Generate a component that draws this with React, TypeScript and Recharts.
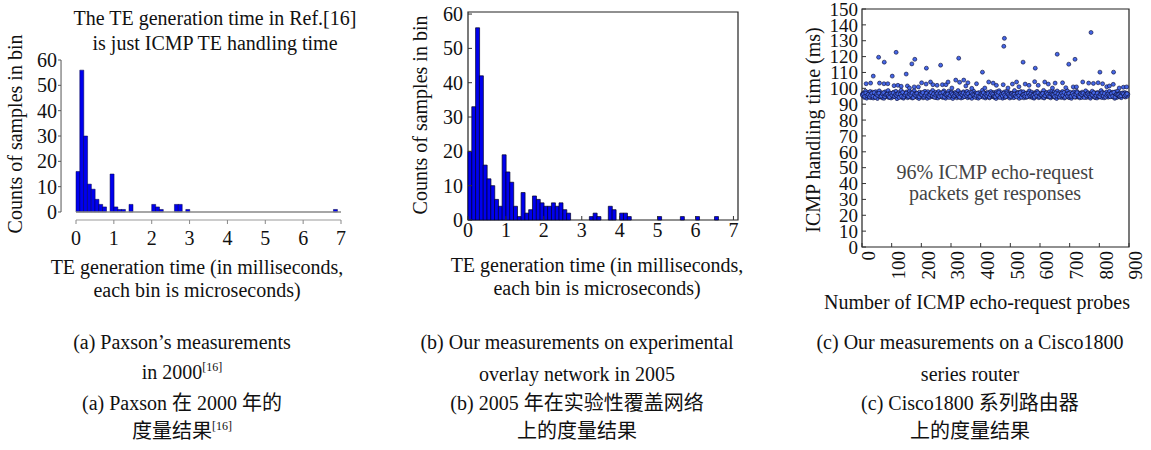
import React from "react";
import {
  BarChart,
  Bar,
  XAxis,
  YAxis,
  ReferenceLine,
  ReferenceArea,
  ScatterChart,
  Scatter,
} from "recharts";

// histogram bins are 0.1 ms wide, 70 bins from 0 to 7 ms
const BIN = 0.1;

const paxsonCounts = [
  16, 56, 30, 11, 9, 5, 3, 2, 0, 15,
  2, 1, 1, 0, 3, 0, 0, 0, 0, 0,
  3, 2, 1, 0, 0, 0, 3, 3, 0, 1,
  0, 0, 0, 0, 0, 0, 0, 0, 0, 0,
  0, 0, 0, 0, 0, 0, 0, 0, 0, 0,
  0, 0, 0, 0, 0, 0, 0, 0, 0, 0,
  0, 0, 0, 0, 0, 0, 0, 0, 1, 0,
];

const overlayCounts = [
  20, 33, 56, 42, 16, 12, 10, 6, 4, 19,
  14, 11, 4, 1, 8, 2, 3, 7, 6, 5,
  4, 4, 5, 4, 5, 3, 2, 0, 0, 0,
  0, 0, 1, 2, 1, 0, 0, 4, 3, 0,
  2, 2, 1, 0, 0, 0, 0, 0, 0, 0,
  1, 0, 0, 0, 0, 0, 1, 0, 0, 0,
  1, 0, 0, 0, 0, 1, 0, 0, 0, 0,
];

const msTicks = [0, 1, 2, 3, 4, 5, 6, 7];
const countTicks = [0, 10, 20, 30, 40, 50, 60];
const probeTicks = [0, 100, 200, 300, 400, 500, 600, 700, 800, 900];
const timeTicks = [0, 10, 20, 30, 40, 50, 60, 70, 80, 90, 100, 110, 120, 130, 140, 150];

// handling time (ms) of every second probe, starting at probe 2
const bandTimes = [
  96.5, 95.2, 97.1, 94.3, 96.0, 98.2, 95.5, 93.8, 96.8, 95.0, 97.4, 94.6, 95.9, 98.0, 94.1, 96.3, 95.4, 97.6, 93.9, 96.1,
  95.7, 94.4, 97.9, 96.2, 95.1, 93.6, 96.9, 95.3, 98.4, 94.8, 96.4, 95.6, 97.2, 94.0, 95.8, 96.7, 93.7, 95.0, 97.8, 96.0,
  94.9, 96.6, 95.2, 98.6, 94.2, 95.5, 97.0, 96.1, 93.9, 95.7, 96.8, 94.5, 97.5, 95.3, 96.2, 94.7, 98.1, 95.9, 93.5, 96.4,
  95.1, 97.3, 94.6, 96.0, 95.4, 98.8, 94.3, 96.5, 95.8, 93.8, 97.1, 95.0, 96.3, 94.9, 97.7, 95.6, 94.1, 96.9, 95.2, 98.3,
  96.1, 94.4, 95.7, 97.4, 93.9, 96.2, 95.0, 98.5, 94.7, 96.6, 95.3, 97.0, 94.2, 95.9, 96.8, 93.6, 97.6, 95.4, 96.0, 94.8,
  97.2, 95.5, 94.0, 96.4, 95.1, 98.1, 94.6, 96.7, 95.8, 93.7, 97.9, 95.2, 96.1, 94.3, 95.6, 97.3, 96.5, 94.9, 98.7, 95.0,
  94.5, 96.3, 95.9, 97.5, 94.1, 95.4, 96.8, 93.9, 98.0, 95.7, 96.0, 94.8, 97.1, 95.3, 96.6, 94.2, 95.0, 98.4, 96.2, 95.5,
  93.8, 97.0, 95.6, 96.4, 94.7, 98.2, 95.1, 96.9, 94.4, 95.8, 97.7, 96.1, 93.6, 95.2, 96.7, 94.9, 97.4, 95.9, 96.3, 94.0,
  95.4, 98.6, 94.6, 96.0, 95.7, 97.2, 93.9, 96.5, 95.0, 94.3, 97.8, 96.2, 95.5, 94.8, 96.9, 95.1, 98.1, 94.1, 96.4, 95.8,
  97.5, 94.5, 96.1, 95.3, 93.7, 96.8, 95.9, 98.3, 94.9, 96.3, 95.2, 97.0, 94.2, 95.6, 96.6, 93.8, 97.3, 95.0, 96.0, 94.7,
  96.2, 95.4, 98.8, 94.4, 95.8, 97.1, 96.5, 93.9, 95.1, 96.9, 94.6, 97.6, 95.7, 96.3, 94.0, 95.5, 98.0, 96.1, 94.8, 95.2,
  95.9, 97.4, 94.3, 96.7, 95.0, 93.6, 97.9, 95.6, 96.2, 94.5, 98.5, 95.3, 96.0, 94.9, 97.2, 95.8, 93.8, 96.4, 95.1, 97.7,
  94.2, 96.0, 95.5, 98.2, 94.7, 96.6, 95.2, 97.3, 93.9, 95.9, 96.8, 94.4, 97.0, 95.4, 96.1, 94.1, 98.6, 95.7, 96.5, 95.0,
  96.3, 94.8, 97.5, 95.1, 93.7, 96.9, 95.6, 98.0, 94.6, 96.2, 95.3, 97.8, 94.0, 95.8, 96.7, 95.0, 94.3, 97.1, 96.0, 95.4,
  95.2, 98.4, 94.5, 96.1, 95.9, 97.6, 94.2, 96.4, 95.0, 93.8, 97.2, 96.6, 95.5, 94.7, 98.1, 95.3, 96.8, 94.1, 95.7, 96.3,
  97.0, 95.6, 94.4, 96.5, 95.1, 98.7, 93.9, 96.0, 95.8, 94.9, 97.4, 95.2, 96.2, 94.6, 95.5, 97.9, 96.1, 94.0, 95.9, 98.2,
  94.8, 96.4, 95.3, 97.7, 94.3, 95.7, 96.9, 93.6, 98.3, 95.0, 96.0, 94.5, 97.3, 95.6, 96.6, 94.2, 95.1, 98.0, 96.3, 95.4,
  93.9, 97.1, 95.8, 96.2, 94.7, 98.5, 95.2, 96.8, 94.1, 95.9, 97.5, 96.0, 93.7, 95.3, 96.5, 94.9, 97.8, 95.5, 96.1, 94.4,
  95.6, 98.1, 94.6, 96.3, 95.0, 97.0, 94.0, 96.7, 95.4, 94.3, 97.6, 96.2, 95.7, 94.8, 96.9, 95.1, 98.4, 94.2, 96.0, 95.9,
  97.3, 94.5, 96.4, 95.2, 93.8, 96.6, 95.8, 98.2, 94.9, 96.1, 95.3, 97.2, 94.1, 95.5, 96.8, 93.9, 97.4, 95.0, 96.2, 94.6,
  96.0, 95.3, 98.6, 94.2, 95.9, 97.3, 96.4, 94.0, 95.2, 96.7, 94.7, 97.7, 95.6, 96.1, 94.4, 95.8, 98.1, 96.3, 94.9, 95.1,
  95.7, 97.5, 94.6, 96.5, 95.0, 93.7, 97.8, 95.4, 96.0, 94.3, 98.3, 95.1, 96.6, 94.8, 97.0, 95.9, 94.1, 96.2, 95.5, 97.1,
  96.4, 95.2, 97.3, 94.5, 95.8, 96.9, 95.0, 96.3,
];

// handling time (ms) of every fourth probe, starting at probe 1
const bandTimesExtra = [
  95.8, 96.4, 94.9, 97.0, 95.3, 96.1, 94.6, 95.7, 96.8, 95.0, 97.3, 94.4, 96.2, 95.5, 96.9, 94.8,
  95.1, 96.6, 97.2, 94.7, 95.9, 96.3, 95.2, 94.5, 96.7, 95.6, 97.1, 94.9, 96.0, 95.4, 96.5, 94.3,
  96.2, 95.0, 97.4, 94.6, 95.8, 96.9, 95.3, 94.8, 96.4, 95.7, 97.0, 94.2, 96.1, 95.5, 96.7, 95.1,
  94.7, 96.3, 95.9, 97.3, 94.5, 95.6, 96.8, 95.2, 94.9, 96.0, 97.2, 95.4, 96.5, 94.4, 95.7, 96.6,
  95.3, 94.8, 96.9, 95.1, 97.5, 94.6, 96.2, 95.8, 96.4, 94.3, 95.5, 97.0, 96.1, 94.9, 95.6, 96.8,
  96.0, 95.2, 94.5, 96.7, 95.9, 97.1, 94.8, 96.3, 95.4, 96.6, 94.7, 95.0, 97.3, 96.2, 95.7, 94.4,
  95.5, 96.9, 95.0, 94.6, 96.4, 95.8, 97.2, 94.9, 96.1, 95.3, 96.7, 94.5, 95.9, 97.0, 96.3, 95.1,
  94.8, 96.5, 95.6, 97.4, 94.3, 96.0, 95.2, 96.8, 95.7, 94.7, 97.1, 96.2, 95.4, 94.9, 96.6, 95.8,
  96.3, 95.1, 94.6, 96.9, 95.5, 97.3, 94.4, 95.9, 96.1, 95.0, 96.7, 94.8, 97.0, 95.6, 96.4, 95.2,
  95.7, 94.5, 96.6, 95.3, 97.2, 94.9, 96.0, 95.8, 96.8, 94.3, 95.4, 97.1, 96.2, 95.0, 94.7, 96.5,
  96.1, 95.9, 94.8, 97.0, 95.2, 96.4, 94.6, 95.7, 96.9, 95.5, 97.4, 94.4, 96.3, 95.1, 96.7, 94.9,
  95.0, 96.8, 95.6, 94.5, 96.2, 97.3, 95.3, 94.7, 96.5, 95.9, 97.0, 94.2, 96.0, 95.4, 96.6, 95.8,
  94.9, 96.1, 95.7, 97.2, 94.6, 95.5, 96.9, 95.1, 94.8, 96.3, 97.1, 95.2, 96.7, 94.4, 95.6, 96.4,
  95.4, 94.7, 96.8, 95.0, 97.5, 94.5, 96.2, 95.9, 96.0, 94.9, 95.3, 97.0, 96.5, 95.1, 95.8, 96.6,
];

// [probe, ms] responses a little above the main band
const upperPoints = [
  [14, 102.9], [29, 103.3], [59, 103.3], [74, 102.9], [87, 102.9], [108, 101.7], [121, 101.9], [132, 101.3],
  [153, 101.5], [160, 100.2], [176, 100.9], [190, 100.9], [201, 103.5], [216, 102.7], [231, 104.0], [239, 102.3],
  [253, 101.9], [271, 102.3], [283, 102.3], [290, 104.0], [303, 100.2], [316, 105.2], [329, 103.8], [343, 105.2],
  [350, 101.5], [357, 103.5], [370, 100.0], [386, 102.9], [414, 100.2], [427, 104.0], [442, 103.3], [453, 101.9],
  [476, 102.3], [492, 100.2], [507, 102.7], [521, 104.0], [529, 101.0], [550, 102.7], [563, 101.9], [582, 104.2],
  [594, 101.9], [616, 104.0], [628, 102.7], [642, 100.2], [651, 103.3], [676, 103.5], [687, 100.4], [712, 100.9],
  [723, 100.9], [744, 104.0], [764, 103.3], [780, 103.1], [796, 103.5], [811, 102.9], [825, 101.0], [834, 101.5],
  [847, 102.5], [867, 100.2], [881, 100.7], [892, 100.9],
];

// [probe, ms] slow responses
const outlierPoints = [
  [38, 107.7], [56, 119.6], [75, 116.5], [102, 107.7], [115, 122.7], [149, 109.0], [168, 115.4], [178, 118.3],
  [217, 112.7], [265, 114.6], [326, 119.0], [406, 110.2], [478, 126.5], [480, 131.5], [543, 116.5], [584, 112.7],
  [658, 121.5], [697, 115.2], [718, 118.3], [772, 135.2], [802, 110.2], [848, 110.2],
];

const paxsonData = paxsonCounts.map((count, i) => ({ x: (i + 0.5) * BIN, count }));
const overlayData = overlayCounts.map((count, i) => ({ x: (i + 0.5) * BIN, count }));
const probeData = [
  ...bandTimes.map((time, i) => ({ probe: (i + 1) * 2, time })),
  ...bandTimesExtra.map((time, i) => ({ probe: i * 4 + 1, time })),
  ...upperPoints.map(([probe, time]) => ({ probe, time })),
  ...outlierPoints.map(([probe, time]) => ({ probe, time })),
];

const FONT = "'Liberation Serif', 'Noto Sans CJK SC', serif";
const tickFont = { fontFamily: FONT, fontSize: 20, fill: "#111" };

function Txt({ x, y, size = 20, color = "#111", rotate = false, children }: any) {
  return (
    <div
      style={{
        position: "absolute",
        left: x,
        top: y,
        transform: `translate(-50%, -50%)${rotate ? " rotate(-90deg)" : ""}`,
        whiteSpace: "nowrap",
        fontFamily: FONT,
        fontSize: size,
        color,
        lineHeight: 1,
      }}
    >
      {children}
    </div>
  );
}

const Sup = ({ children }: any) => (
  <sup style={{ fontSize: 12, verticalAlign: 0, position: "relative", top: -8 }}>{children}</sup>
);

function Dot(p: any) {
  return <circle cx={p.cx} cy={p.cy} r={2} fill="#4466e6" stroke="#0b0b33" strokeWidth={0.6} />;
}

export default function App() {
  return (
    <div style={{ position: "absolute", left: 0, top: 0, width: 1151, height: 450, background: "#fff", overflow: "hidden" }}>
      {/* (a) Paxson */}
      <div style={{ position: "absolute", left: 0, top: 0 }}>
        <BarChart
          width={380}
          height={310}
          data={paxsonData}
          margin={{ top: 60, right: 39, bottom: 60, left: 21 }}
          barCategoryGap={0}
          barGap={0}
        >
          <XAxis
            dataKey="x"
            type="number"
            domain={[0, 7]}
            ticks={msTicks}
            padding={{ left: 15, right: 0 }}
            axisLine={false}
            tickLine={{ stroke: "#888" }}
            tickSize={4}
            tickMargin={7}
            tick={tickFont}
            height={30}
            interval={0}
          />
          <YAxis
            type="number"
            domain={[0, 60]}
            ticks={countTicks}
            padding={{ top: 0, bottom: 8 }}
            axisLine={false}
            tickLine={{ stroke: "#555" }}
            tickSize={3}
            tickMargin={1}
            tick={tickFont}
            width={40}
            interval={0}
          />
          <ReferenceLine segment={[{ x: -0.395, y: 0 }, { x: -0.395, y: 60 }]} stroke="#555" ifOverflow="visible" />
          <ReferenceLine segment={[{ x: 0, y: -3.16 }, { x: 7, y: -3.16 }]} stroke="#999" ifOverflow="visible" />
          <ReferenceLine segment={[{ x: 0, y: 0 }, { x: 7, y: 0 }]} stroke="#888" strokeWidth={1.5} />
          <Bar dataKey="count" fill="#0000ee" stroke="#000044" strokeWidth={0.5} isAnimationActive={false} />
        </BarChart>
      </div>

      {/* (b) overlay network */}
      <div style={{ position: "absolute", left: 400, top: 0 }}>
        <BarChart
          width={360}
          height={310}
          data={overlayData}
          margin={{ top: 12, right: 22, bottom: 60, left: 28 }}
          barCategoryGap={0}
          barGap={0}
        >
          <XAxis
            dataKey="x"
            type="number"
            domain={[0, 7.12]}
            ticks={msTicks}
            axisLine={false}
            tickLine={{ stroke: "#333" }}
            tickSize={-4}
            tickMargin={7}
            tick={tickFont}
            height={30}
            interval={0}
          />
          <YAxis
            type="number"
            domain={[0, 60.6]}
            ticks={countTicks}
            axisLine={false}
            tickLine={{ stroke: "#333" }}
            tickSize={-4}
            tickMargin={9}
            tick={tickFont}
            width={40}
            interval={0}
          />
          <Bar dataKey="count" fill="#0000ee" stroke="#000022" strokeWidth={0.7} isAnimationActive={false} />
          <ReferenceArea x1={0} x2={7.12} y1={0} y2={60.6} fill="none" stroke="#222" strokeWidth={1.2} />
        </BarChart>
      </div>

      {/* (c) Cisco1800 */}
      <div style={{ position: "absolute", left: 790, top: 0 }}>
        <ScatterChart width={361} height={320} margin={{ top: 9, right: 22, bottom: 33, left: 32 }}>
          <XAxis
            dataKey="probe"
            type="number"
            domain={[0, 900]}
            ticks={probeTicks}
            axisLine={false}
            tickLine={{ stroke: "#333" }}
            tickSize={-4}
            tickMargin={8}
            tick={{ ...tickFont, fontSize: 19, angle: -90, textAnchor: "end", verticalAnchor: "middle" }}
            height={40}
            interval={0}
          />
          <YAxis
            dataKey="time"
            type="number"
            domain={[0, 150]}
            ticks={timeTicks}
            axisLine={false}
            tickLine={{ stroke: "#333" }}
            tickSize={-4}
            tickMargin={8}
            tick={{ ...tickFont, fontSize: 19 }}
            width={40}
            interval={0}
          />
          <ReferenceArea x1={0} x2={900} y1={0} y2={150} fill="none" stroke="#222" strokeWidth={1.2} />
          <Scatter data={probeData} shape={Dot} isAnimationActive={false} />
        </ScatterChart>
      </div>

      {/* titles and axis labels */}
      <Txt x={215} y={18}>The TE generation time in Ref.[16]</Txt>
      <Txt x={215} y={43}>is just ICMP TE handling time</Txt>
      <Txt x={15} y={134} rotate>Counts of samples in bin</Txt>
      <Txt x={197} y={267}>TE generation time (in milliseconds,</Txt>
      <Txt x={197} y={290}>each bin is microseconds)</Txt>

      <Txt x={420} y={115} rotate>Counts of samples in bin</Txt>
      <Txt x={597} y={265}>TE generation time (in milliseconds,</Txt>
      <Txt x={597} y={288}>each bin is microseconds)</Txt>

      <Txt x={813} y={130} rotate>ICMP handling time (ms)</Txt>
      <Txt x={977} y={302}>Number of ICMP echo-request probes</Txt>
      <Txt x={995} y={172} color="#444">96% ICMP echo-request</Txt>
      <Txt x={995} y={193} color="#444">packets get responses</Txt>

      {/* captions */}
      <Txt x={182} y={342}>(a) Paxson’s measurements</Txt>
      <Txt x={182} y={372}>in 2000<Sup>[16]</Sup></Txt>
      <Txt x={182} y={403}>(a) Paxson 在 2000 年的</Txt>
      <Txt x={182} y={431}>度量结果<Sup>[16]</Sup></Txt>

      <Txt x={577} y={342}>(b) Our measurements on experimental</Txt>
      <Txt x={577} y={374}>overlay network in 2005</Txt>
      <Txt x={577} y={403}>(b) 2005 年在实验性覆盖网络</Txt>
      <Txt x={577} y={431}>上的度量结果</Txt>

      <Txt x={970} y={342}>(c) Our measurements on a Cisco1800</Txt>
      <Txt x={970} y={374}>series router</Txt>
      <Txt x={970} y={403}>(c) Cisco1800 系列路由器</Txt>
      <Txt x={970} y={431}>上的度量结果</Txt>
    </div>
  );
}
